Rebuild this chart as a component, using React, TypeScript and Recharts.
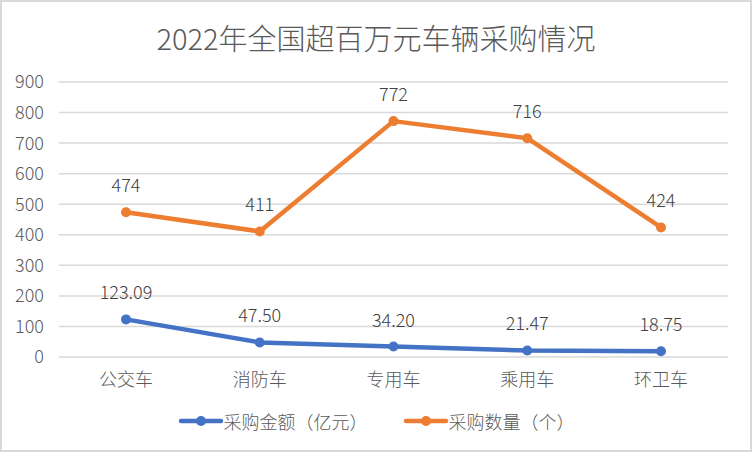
import { LineChart, Line, XAxis, YAxis, CartesianGrid, LabelList } from "recharts";

const categories = ["公交车", "消防车", "专用车", "乘用车", "环卫车"];
const amount = [123.09, 47.5, 34.2, 21.47, 18.75];
const count = [474, 411, 772, 716, 424];
const yTicks = [0, 100, 200, 300, 400, 500, 600, 700, 800, 900];

const SERIES = [
  { key: "amount", label: "采购金额（亿元）", color: "#4472C4", digits: 2 },
  { key: "count", label: "采购数量（个）", color: "#ED7D31", digits: 0 },
];

const FONT = '"Noto Sans CJK SC", "Noto Sans", sans-serif';
const WEIGHT = 300;

const data = categories.map((name, i) => ({ name, amount: amount[i], count: count[i] }));

function LegendBox() {
  return (
    <div
      style={{
        position: "absolute",
        top: 408,
        left: 0,
        width: 752,
        display: "flex",
        justifyContent: "center",
        alignItems: "center",
        gap: 35,
        fontFamily: FONT,
        fontWeight: WEIGHT,
      }}
    >
      {SERIES.map((s) => (
        <div key={s.key} style={{ display: "flex", alignItems: "center" }}>
          <svg width={46} height={12}>
            <line x1={3} y1={6} x2={43} y2={6} stroke={s.color} strokeWidth={4.5} strokeLinecap="round" />
            <circle cx={23} cy={6} r={5} fill={s.color} />
          </svg>
          <span style={{ fontSize: 18, lineHeight: "26px", color: "#595959" }}>{s.label}</span>
        </div>
      ))}
    </div>
  );
}

export default function App() {
  return (
    <div
      style={{
        position: "absolute",
        top: 0,
        left: 0,
        width: 752,
        height: 452,
        background: "#fff",
        fontFamily: FONT,
      }}
    >
      <div
        style={{
          position: "absolute",
          top: 17,
          left: 0,
          width: 752,
          textAlign: "center",
          fontSize: 29,
          fontWeight: WEIGHT,
          lineHeight: "40px",
          color: "#595959",
        }}
      >
        2022年全国超百万元车辆采购情况
      </div>
      <div style={{ position: "absolute", top: 0, left: 0 }}>
        <LineChart width={752} height={452} data={data} margin={{ top: 82, right: 24, bottom: 65, left: 0 }}>
          <CartesianGrid vertical={false} stroke="#d9d9d9" strokeWidth={1.5} />
          <XAxis
            dataKey="name"
            height={30}
            axisLine={false}
            tickLine={false}
            tickSize={0}
            tickMargin={16}
            interval={0}
            padding={{ left: 67, right: 67 }}
            tick={{ fill: "#595959", fontSize: 18, fontFamily: FONT, fontWeight: WEIGHT }}
          />
          <YAxis
            width={59}
            domain={[0, 900]}
            ticks={yTicks}
            interval={0}
            axisLine={false}
            tickLine={false}
            tickSize={0}
            tickMargin={15}
            tick={{ fill: "#595959", fontSize: 18, fontFamily: FONT, fontWeight: WEIGHT }}
          />
          {SERIES.map((s) => (
            <Line
              key={s.key}
              dataKey={s.key}
              name={s.label}
              stroke={s.color}
              strokeWidth={4.5}
              strokeLinecap="round"
              strokeLinejoin="round"
              dot={{ r: 5, fill: s.color, stroke: "none" }}
              activeDot={false}
              isAnimationActive={false}
            >
              <LabelList
                dataKey={s.key}
                position="top"
                offset={20}
                fill="#404040"
                fontSize={18}
                fontFamily={FONT}
                fontWeight={WEIGHT}
                formatter={(v: number) => v.toFixed(s.digits)}
              />
            </Line>
          ))}
        </LineChart>
      </div>
      <LegendBox />
      <div
        style={{
          position: "absolute",
          top: 0,
          left: 0,
          width: 752,
          height: 452,
          boxSizing: "border-box",
          border: "2px solid #d9d9d9",
          pointerEvents: "none",
        }}
      />
    </div>
  );
}
